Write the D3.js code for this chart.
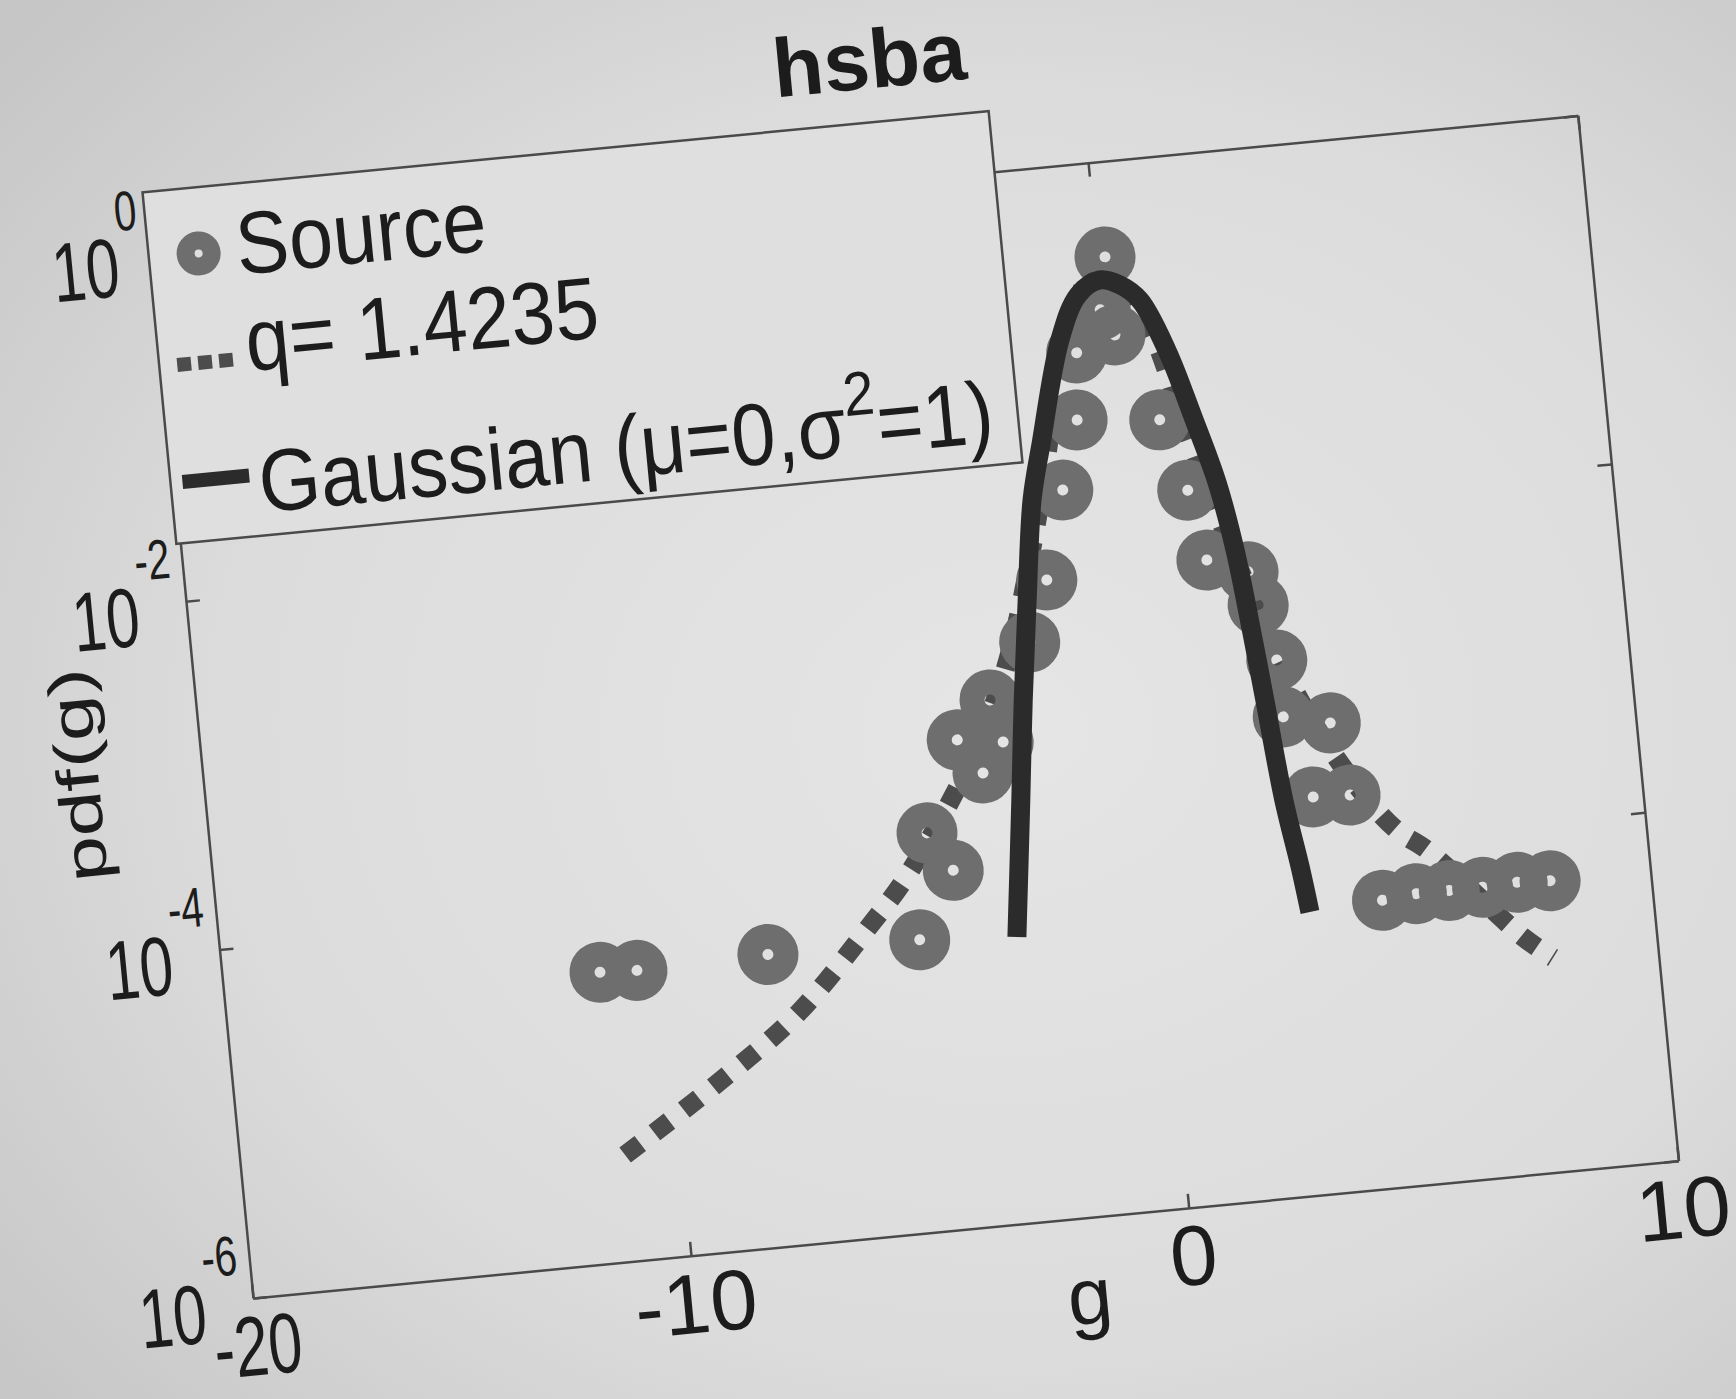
<!DOCTYPE html>
<html lang="en">
<head>
	<meta charset="UTF-8">
	<title>hsba</title>
	<style>
		html, body {
			margin: 0;
			background: #d6d6d6;
		}
		svg {
			display: block;
		}
		text {
			font-family: 'Liberation Sans', Arial, Helvetica, sans-serif;
			fill: #1c1c1c;
		}
	</style>
	<script src="https://cdn.jsdelivr.net/npm/d3@7"></script>
</head>
<body>
	<svg id="chart" width="1736" height="1399"></svg>
	<script>
		// Source histogram (g, pdf)
		const sourceG = [-11.44, -10.60, -7.89, -4.84, -4.04, -4.49, -3.71, -3.26, -2.80, -2.98, -2.08, -1.62,
			-1.13, -0.71, -0.59, -0.04, 0.16, 0.21, 0.95, 1.38, 1.63, 2.44, 2.58, 2.85, 2.87, 3.81, 3.32, 4.07,
			4.52, 5.22, 5.89, 6.57, 7.28, 7.95];
		const sourcePdf = [4.6e-5, 4.5e-5, 4.7e-5, 4.7e-5, 1.12e-4, 1.89e-4, 6.15e-4, 3.86e-4, 5.64e-4, 9.95e-4,
			2.02e-3, 4.46e-3, 0.0142, 0.0349, 0.0841, 0.1435, 0.285, 0.1014, 0.0315, 0.0121, 4.73e-3, 3.85e-3,
			2.46e-3, 1.17e-3, 5.51e-4, 4.80e-4, 1.86e-4, 1.82e-4, 4.4e-5, 4.6e-5, 4.6e-5, 4.6e-5, 4.7e-5, 4.6e-5];

		// q-Gaussian fit
		const qG = [-11.27, -9.19, -7.40, -5.74, -5.08, -4.19, -3.40, -2.58, -1.76, -0.89, -0.06, 0.76, 1.52,
			2.28, 3.24, 4.28, 4.95, 5.52, 7.29, 7.86];
		const qPdf = [4.07e-6, 9.08e-6, 2.10e-5, 6.31e-5, 1.01e-4, 2.23e-4, 5.07e-4, 1.56e-3, 8.61e-3, 0.0729,
			0.240, 0.136, 0.0233, 3.99e-3, 6.73e-4, 1.92e-4, 1.08e-4, 8.04e-5, 2.28e-5, 1.67e-5];

		// Gaussian curve
		const gaussG = [-2.90, -2.56, -2.32, -2.05, -1.76, -1.47, -0.90, -0.45, 0.01, 0.41, 0.78, 1.23, 1.63,
			1.99, 2.22, 2.40, 2.53, 2.72, 2.92, 3.03];
		const gaussPdf = [4.32e-5, 2.58e-4, 9.53e-4, 3.52e-3, 0.0130, 0.0270, 0.1016, 0.1795, 0.2123, 0.1936,
			0.1552, 0.0778, 0.0313, 0.0128, 5.21e-3, 1.72e-3, 7.03e-4, 1.85e-4, 7.55e-5, 4.14e-5];

		const xTicks = [-20, -10, 0, 10];
		const yTicks = [1e-6, 1e-4, 1e-2, 1];
		const yTickExponents = ['-6', '-4', '-2', '0'];
		const legendLabels = ['Source', 'q= 1.4235', 'Gaussian (\u03bc=0,\u03c3^2=1)'];

		const colors = {
			source: '#6e6e6e',
			q: '#4c4c4c',
			gauss: '#2b2b2b',
			axis: '#4a4a4a',
		};

		const W = 1432, H = 1050;
		const svg = d3.select('#chart');

		// paper background, darker towards the corners like the photo
		const grad = svg.append('defs').append('radialGradient')
			.attr('id', 'paper').attr('cx', '58%').attr('cy', '52%').attr('r', '75%');
		grad.append('stop').attr('offset', '0%').attr('stop-color', '#e5e5e5');
		grad.append('stop').attr('offset', '60%').attr('stop-color', '#dcdcdc');
		grad.append('stop').attr('offset', '100%').attr('stop-color', '#c6c6c6');
		svg.append('rect').attr('width', 1736).attr('height', 1399).attr('fill', 'url(#paper)');

		// the page was photographed tilted, so the whole axes is rotated
		const plot = svg.append('g')
			.attr('transform', `translate(253,1298) rotate(-5.5) translate(0,${-H})`);

		// tick spacing is uneven in the photo (page curls near the spine)
		const x = d3.scaleLinear().domain(xTicks).range([0, 440, 940, W]);
		const y = d3.scaleLog().domain([1e-6, 1]).range([H, 0]);

		// horizontal squeeze of glyphs near the left edge
		const squeeze = u => Math.max(0.72, Math.min(1, 0.72 + 0.28 * u / 440));

		// axes box + inward ticks
		const axes = [
			{ gen: d3.axisBottom(x).tickValues(xTicks).tickPadding(17), t: `translate(0,${H})`, cls: 'x-bottom' },
			{ gen: d3.axisTop(x).tickValues(xTicks).tickFormat(''), t: 'translate(0,0)', cls: 'x-top' },
			{ gen: d3.axisLeft(y).tickValues(yTicks).tickFormat(''), t: 'translate(0,0)', cls: 'y-left' },
			{ gen: d3.axisRight(y).tickValues(yTicks).tickFormat(''), t: `translate(${W},0)`, cls: 'y-right' },
		];
		axes.forEach(a => {
			const g = plot.append('g').attr('class', a.cls).attr('transform', a.t)
				.call(a.gen.tickSizeInner(-14).tickSizeOuter(0));
			g.select('.domain').attr('stroke', colors.axis).attr('stroke-width', 2.5);
			g.selectAll('.tick line').attr('stroke', colors.axis).attr('stroke-width', 2.5);
		});
		plot.selectAll('.x-top .tick text, .y-left .tick text, .y-right .tick text').remove();
		plot.selectAll('.x-bottom .tick text')
			.attr('font-size', 85)
			.attr('fill', '#1c1c1c')
			.attr('transform', d => `scale(${squeeze(x(d))},1)`)
			.text(d => String(d));
		plot.selectAll('.x-bottom').attr('font-family', null);

		// y tick labels as 10^n
		const yLab = plot.selectAll('.ylab')
			.data(yTicks)
			.enter()
			.append('text')
			.attr('class', 'ylab')
			.attr('text-anchor', 'end')
			.attr('transform', d => `translate(-12,${y(d) + 40}) scale(${squeeze(-80)},1)`);
		yLab.append('tspan').attr('font-size', 84).text('10');
		yLab.append('tspan').attr('font-size', 56).attr('dy', -65).text((d, i) => yTickExponents[i]);

		// q-Gaussian, drawn as square dots
		const line = d3.line()
			.x(d => x(d[0]))
			.y(d => y(d[1]))
			.curve(d3.curveCatmullRom.alpha(0.5));

		plot.append('path')
			.datum(d3.zip(qG, qPdf))
			.attr('d', line)
			.attr('fill', 'none')
			.attr('stroke', colors.q)
			.attr('stroke-width', 19)
			.attr('stroke-dasharray', '19 18');

		// Source markers
		plot.selectAll('circle.src')
			.data(d3.zip(sourceG, sourcePdf))
			.enter()
			.append('circle')
			.attr('class', 'src')
			.attr('cx', d => x(d[0]))
			.attr('cy', d => y(d[1]))
			.attr('r', 18)
			.attr('fill', 'none')
			.attr('stroke', colors.source)
			.attr('stroke-width', 25);

		// Gaussian
		plot.append('path')
			.datum(d3.zip(gaussG, gaussPdf))
			.attr('d', line)
			.attr('fill', 'none')
			.attr('stroke', colors.gauss)
			.attr('stroke-width', 19)
			.attr('stroke-linecap', 'butt');

		// Legend
		const legend = plot.append('g');
		legend.append('rect')
			.attr('x', -4).attr('y', -61)
			.attr('width', 850).attr('height', 353)
			.attr('fill', '#dfdfdf')
			.attr('stroke', colors.axis)
			.attr('stroke-width', 2.5);
		legend.append('circle')
			.attr('cx', 46).attr('cy', 5).attr('r', 13)
			.attr('fill', 'none')
			.attr('stroke', colors.source)
			.attr('stroke-width', 18);
		legend.append('line')
			.attr('x1', 14).attr('x2', 70).attr('y1', 114).attr('y2', 114)
			.attr('stroke', colors.q)
			.attr('stroke-width', 14)
			.attr('stroke-dasharray', '14 7');
		legend.append('line')
			.attr('x1', 8).attr('x2', 75).attr('y1', 231).attr('y2', 231)
			.attr('stroke', colors.gauss)
			.attr('stroke-width', 14);

		const rowBaselines = [30, 127, 269];
		legendLabels.forEach((label, i) => {
			const t = legend.append('text')
				.attr('font-size', 88)
				.attr('transform', `translate(84,${rowBaselines[i]}) scale(0.9,1)`);
			// "^c" marks a superscript character
			const parts = label.split('^');
			t.append('tspan').text(parts[0]);
			parts.slice(1).forEach(p => {
				t.append('tspan').attr('font-size', 62).attr('dy', -40).text(p[0]);
				t.append('tspan').attr('dy', 40).text(p.slice(1));
			});
		});

		// Title and axis labels
		plot.append('text')
			.attr('x', 732).attr('y', -95)
			.attr('text-anchor', 'middle')
			.attr('font-size', 83)
			.attr('font-weight', 'bold')
			.text('hsba');
		plot.append('text')
			.attr('x', 833).attr('y', H + 106)
			.attr('text-anchor', 'middle')
			.attr('font-size', 80)
			.text('g');
		plot.append('text')
			.attr('transform', `translate(-104,${H / 2 - 12}) scale(${squeeze(-100)},1) rotate(-90)`)
			.attr('text-anchor', 'middle')
			.attr('font-size', 82)
			.text('pdf(g)');
	</script>
</body>
</html>
